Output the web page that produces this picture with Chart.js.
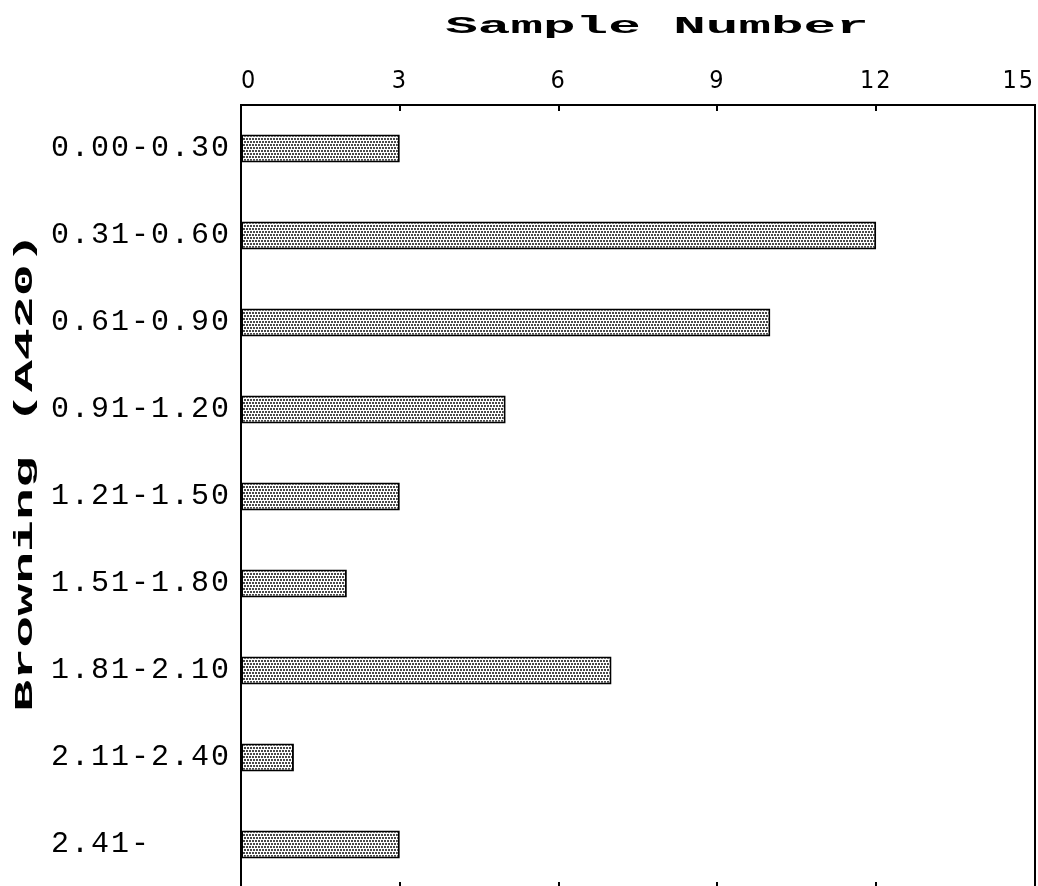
<!DOCTYPE html>
<html>
<head>
<meta charset="utf-8">
<script src="https://cdn.jsdelivr.net/npm/chart.js@4.4.1/dist/chart.umd.min.js"></script>
<style>
  html, body { margin: 0; padding: 0; background: #fff; overflow: hidden; }
  #wrap { width: 1038px; height: 892px; }
</style>
</head>
<body>
<div id="wrap"><canvas id="chart" width="1038" height="892"></canvas></div>
<script>
// Browning ranges (absorbance at 420 nm) and how many samples fall in each
const browningRanges = ['0.00-0.30', '0.31-0.60', '0.61-0.90', '0.91-1.20', '1.21-1.50',
                        '1.51-1.80', '1.81-2.10', '2.11-2.40', '2.41-'];
const sampleCounts = [3, 12, 10, 5, 3, 2, 7, 1, 3];
const countTicks = [0, 3, 6, 9, 12, 15];
const xTitle = 'Sample Number';
const yTitle = 'Browning (A420)';

// Stippled grey fill for the bars
function stipple() {
  const c = document.createElement('canvas');
  c.width = 6; c.height = 6;
  const g = c.getContext('2d');
  g.fillStyle = '#ffffff';
  g.fillRect(0, 0, 6, 6);
  g.fillStyle = '#4a4a4a';
  g.fillRect(0, 0, 2, 2); g.fillRect(3, 0, 2, 2);
  g.fillRect(1, 3, 2, 2); g.fillRect(4, 3, 2, 2);
  return g.createPattern(c, 'repeat');
}

// Wide typewriter-style axis titles, inward tick marks and the closed frame
const decorations = {
  id: 'decorations',
  beforeDraw(chart) {
    chart.ctx.letterSpacing = '2px';
  },
  afterDraw(chart) {
    const ctx = chart.ctx;
    const { left, right, top, bottom } = chart.chartArea;
    const x = chart.scales.x;
    ctx.save();
    ctx.letterSpacing = '0px';
    ctx.strokeStyle = '#000';
    ctx.lineWidth = 2;
    ctx.strokeRect(left, top, right - left, bottom - top);
    ctx.beginPath();
    x.ticks.forEach(t => {
      const px = Math.round(x.getPixelForValue(t.value));
      ctx.moveTo(px, top); ctx.lineTo(px, top + 6);
      ctx.moveTo(px, bottom); ctx.lineTo(px, bottom - 6);
    });
    ctx.stroke();

    ctx.fillStyle = '#000';
    ctx.textAlign = 'center';
    ctx.textBaseline = 'alphabetic';

    ctx.save();
    ctx.font = 'bold 23px "Liberation Mono", "DejaVu Sans Mono", monospace';
    ctx.translate(657, 33);
    ctx.scale(2.36, 1);
    ctx.fillText(xTitle, 0, 0);
    ctx.restore();

    ctx.save();
    ctx.font = 'bold 25px "Liberation Mono", "DejaVu Sans Mono", monospace';
    ctx.translate(32, 472);
    ctx.rotate(-Math.PI / 2);
    ctx.scale(2.13, 1);
    ctx.fillText(yTitle, 0, 0);
    ctx.restore();

    ctx.restore();
  }
};

new Chart(document.getElementById('chart'), {
  type: 'bar',
  data: {
    labels: browningRanges,
    datasets: [{
      data: sampleCounts,
      backgroundColor: stipple(),
      borderColor: '#000',
      borderWidth: 2,
      borderSkipped: false,
      categoryPercentage: 1,
      barPercentage: 0.32
    }]
  },
  options: {
    indexAxis: 'y',
    responsive: false,
    animation: false,
    layout: { padding: { left: 51, right: 3, top: 0, bottom: 4 } },
    plugins: { legend: { display: false }, tooltip: { enabled: false } },
    scales: {
      x: {
        position: 'top',
        min: 0,
        max: 15,
        afterBuildTicks: s => { s.ticks = countTicks.map(v => ({ value: v })); },
        afterFit: s => { s.height = 105; s.paddingLeft = 0; s.paddingRight = 0; },
        grid: { display: false, drawTicks: false },
        border: { display: false },
        ticks: {
          align: 'inner',
          padding: 9,
          color: '#000',
          font: { family: '"Liberation Sans Narrow", "DejaVu Sans Condensed", "Liberation Sans", sans-serif', size: 25 }
        }
      },
      y: {
        afterFit: s => { s.width = 190; s.paddingTop = 0; s.paddingBottom = 0; },
        grid: { display: false, drawTicks: false },
        border: { display: false },
        ticks: {
          crossAlign: 'far',
          color: '#000',
          font: { family: '"Liberation Mono", "DejaVu Sans Mono", monospace', size: 30 }
        }
      }
    }
  },
  plugins: [decorations]
});
</script>
</body>
</html>
